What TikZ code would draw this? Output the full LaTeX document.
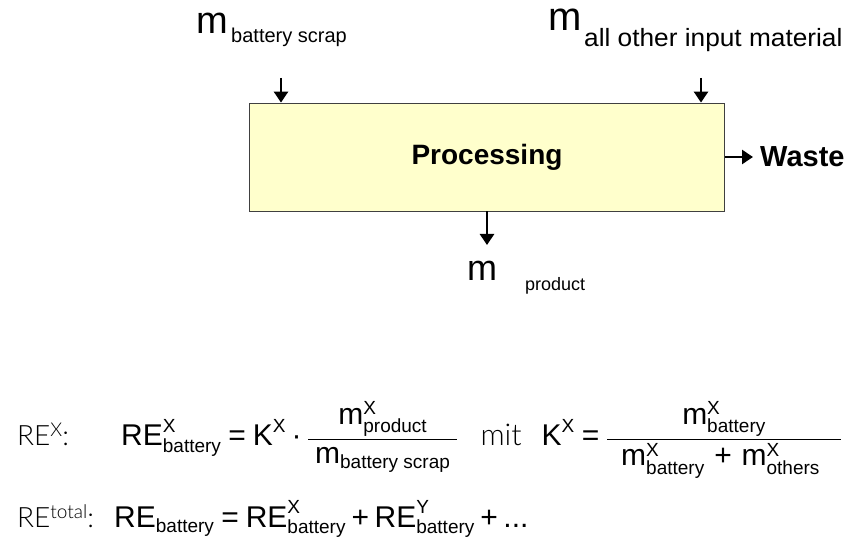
\documentclass[tikz,border=0pt]{standalone}
\usepackage{amsmath}
\usepackage{fontspec}
\setmainfont{Liberation Sans}
\IfFontExistsTF{Lato Light}{\newfontfamily\lblfont{Lato Light}}{\newfontfamily\lblfont{Lato}}
\usetikzlibrary{arrows.meta,positioning}
\DeclareMathSizes{30}{30}{19}{14}
\definecolor{procfill}{RGB}{255,255,204}
\newcommand{\tx}[1]{\text{#1}}
\newcommand{\fs}[1]{\fontsize{#1}{#1}\selectfont}
\newcommand{\eq}{\mathrel{\tx{=}}}
\newcommand{\pl}{\mathbin{\tx{+}}}

\tikzset{
  procbox/.style={draw=black!75,line width=0.8pt,fill=procfill,
    minimum width=475pt,minimum height=108pt,inner sep=0pt},
  flow/.style={-{Triangle[length=11pt,width=14pt]},line width=2.6pt},
  bigm/.style={anchor=base west,inner sep=0pt},
  subtxt/.style={anchor=base west,inner sep=0pt},
  eqtxt/.style={anchor=base west,inner sep=0pt,font=\fs{30}},
}

\begin{document}
\begin{tikzpicture}[x=1pt,y=-1pt]
  \useasboundingbox (0,0) rectangle (855,537);

  % process box
  \node[procbox] (proc) at (487,157) {\fs{28}\bfseries Processing};
  \node[anchor=west,inner sep=0pt] (waste) at (760,157) {\fs{29}\bfseries Waste};
  \draw[flow] (proc.east) -- ([xshift=-7pt]waste.west);

  % inputs
  \node[bigm] (mscrap) at (196,34) {\fs{38}m};
  \node[subtxt] (scrapsub) at (231,43) {\fs{20}battery scrap};
  \node[bigm] (mother) at (548,31) {\fs{40}m};
  \node[subtxt,xscale=1.05] (othersub) at (584,47) {\fs{25}all other input material};
  \coordinate (scrapin) at (281,78);
  \coordinate (otherin) at (701,78);
  \draw[flow] (scrapin) -- (scrapin |- proc.north);
  \draw[flow] (otherin) -- (otherin |- proc.north);

  % output
  \coordinate (prodout) at (487,245);
  \draw[flow] (prodout |- proc.south) -- (prodout);
  \node[bigm] (mprod) at (467,281) {\fs{36}m};
  \node[subtxt] (prodsub) at (525,291) {\fs{18}product};

  % recycling efficiency
  \node[anchor=base west,inner sep=0pt] (lblx) at (17,446)
    {\fs{28}\lblfont RE\raisebox{9pt}{\fs{19}X}:};
  \node[eqtxt] (eqx) at (121,446) {%
    $\tx{RE}^{\tx{X}}_{\tx{battery}}\eq\tx{K}^{\tx{X}}\mathbin{\tx{·}}
    \dfrac{\tx{m}^{\tx{X}}_{\tx{product}}}{\;\tx{m}_{\tx{battery scrap}}\;}$%
    \hspace{22pt}{\lblfont mit}\hspace{20pt}%
    $\tx{K}^{\tx{X}}\eq\dfrac{\tx{m}^{\tx{X}}_{\tx{battery}}}
    {\;\;\tx{m}^{\tx{X}}_{\tx{battery}}\,\pl\,\tx{m}^{\tx{X}}_{\tx{others}}\;\;\;}$};
  \node[anchor=base west,inner sep=0pt] (lbltot) at (17,527)
    {\fs{28}\lblfont RE\raisebox{9pt}{\fs{19}total}:};
  \node[eqtxt] (eqtot) at (114,527) {%
    $\tx{RE}_{\tx{battery}}\eq\tx{RE}^{\tx{X}}_{\tx{battery}}
    \pl\tx{RE}^{\tx{Y}}_{\tx{battery}}\pl\tx{...}$};
\end{tikzpicture}
\end{document}
